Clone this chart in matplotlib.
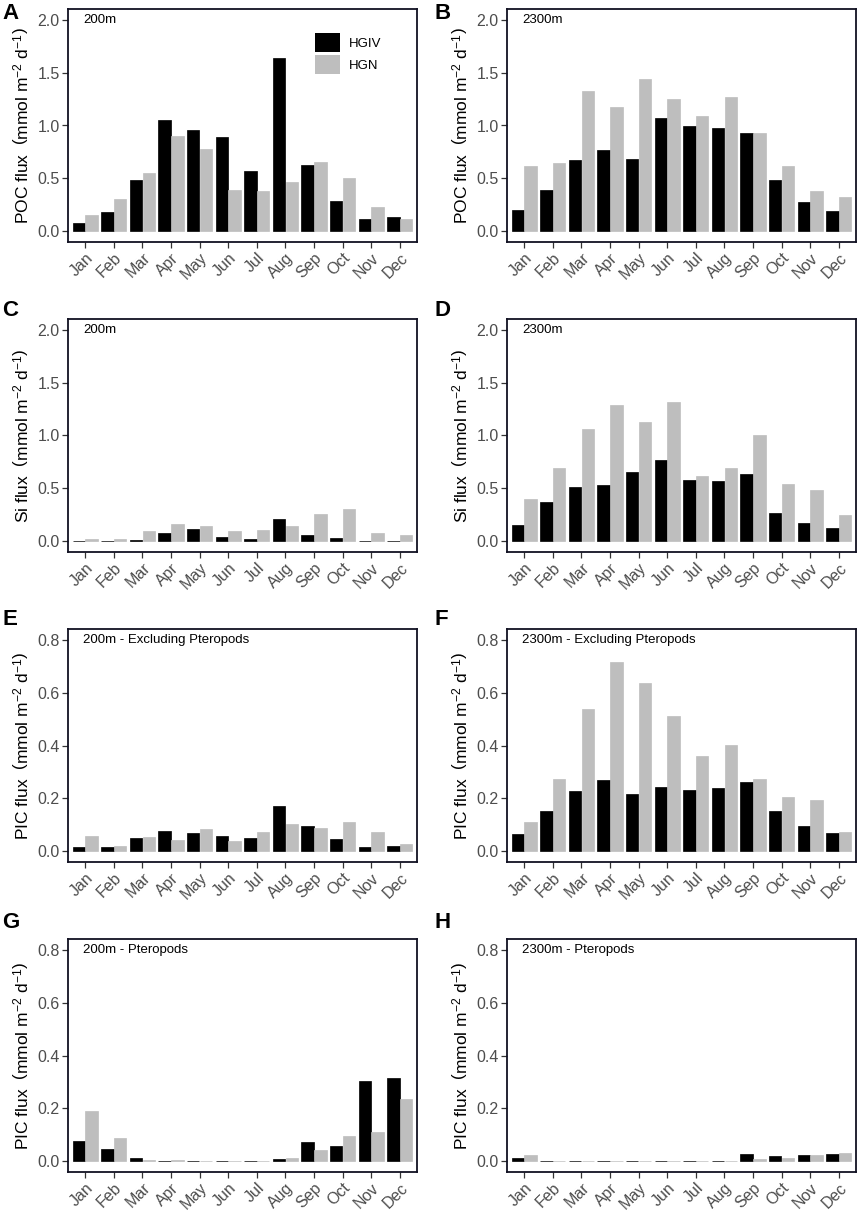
import matplotlib
matplotlib.use("Agg")
import matplotlib.pyplot as plt
from matplotlib.patches import Patch
import numpy as np

plt.rcParams['font.family'] = ['Liberation Sans', 'DejaVu Sans']
plt.rcParams['mathtext.fontset'] = 'custom'
plt.rcParams['mathtext.rm'] = 'Liberation Sans'
plt.rcParams['mathtext.it'] = 'Liberation Sans:italic'
plt.rcParams['mathtext.bf'] = 'Liberation Sans:bold'

months = ["Jan", "Feb", "Mar", "Apr", "May", "Jun", "Jul", "Aug", "Sep", "Oct", "Nov", "Dec"]
series_names = ["HGIV", "HGN"]

poc_200_hgiv = [0.081, 0.187, 0.486, 1.05, 0.953, 0.891, 0.573, 1.635, 0.623, 0.283, 0.121, 0.134]
poc_200_hgn = [0.153, 0.302, 0.554, 0.903, 0.776, 0.389, 0.386, 0.464, 0.651, 0.502, 0.227, 0.115]
poc_2300_hgiv = [0.202, 0.393, 0.67, 0.77, 0.685, 1.075, 0.997, 0.978, 0.928, 0.489, 0.28, 0.196]
poc_2300_hgn = [0.62, 0.645, 1.33, 1.174, 1.44, 1.246, 1.09, 1.265, 0.928, 0.617, 0.38, 0.321]

si_200_hgiv = [0.006, 0.006, 0.015, 0.078, 0.12, 0.044, 0.02, 0.21, 0.062, 0.028, 0.003, 0.008]
si_200_hgn = [0.025, 0.025, 0.1, 0.162, 0.147, 0.1, 0.11, 0.144, 0.256, 0.303, 0.078, 0.062]
si_2300_hgiv = [0.153, 0.368, 0.515, 0.53, 0.652, 0.77, 0.583, 0.571, 0.633, 0.271, 0.178, 0.125]
si_2300_hgn = [0.4, 0.69, 1.06, 1.289, 1.13, 1.317, 0.615, 0.696, 1.0, 0.54, 0.487, 0.25]

pic_ex_200_hgiv = [0.015, 0.0175, 0.05, 0.0775, 0.069, 0.059, 0.0525, 0.1725, 0.095, 0.045, 0.015, 0.02]
pic_ex_200_hgn = [0.0575, 0.021, 0.056, 0.044, 0.084, 0.04, 0.074, 0.1025, 0.0875, 0.11, 0.074, 0.029]
pic_ex_2300_hgiv = [0.064, 0.151, 0.23, 0.271, 0.215, 0.2425, 0.231, 0.24, 0.264, 0.154, 0.096, 0.071]
pic_ex_2300_hgn = [0.11, 0.2725, 0.539, 0.714, 0.6375, 0.5125, 0.359, 0.4025, 0.275, 0.205, 0.195, 0.074]

pic_pt_200_hgiv = [0.076, 0.045, 0.014, 0.0025, 0.001, 0.0, 0.001, 0.0075, 0.0725, 0.06, 0.305, 0.314]
pic_pt_200_hgn = [0.191, 0.0875, 0.006, 0.005, 0.0005, 0.0, 0.0015, 0.011, 0.0425, 0.096, 0.11, 0.234]
pic_pt_2300_hgiv = [0.014, 0.0025, 0.0025, 0.0005, 0.0005, 0.0, 0.0, 0.0, 0.0275, 0.02, 0.025, 0.0275]
pic_pt_2300_hgn = [0.0225, 0.001, 0.001, 0.001, 0.0025, 0.0005, 0.0, 0.0025, 0.0075, 0.014, 0.024, 0.031]

panels = [
    ("A", "200m", "POC flux", poc_200_hgiv, poc_200_hgn, "poc"),
    ("B", "2300m", "POC flux", poc_2300_hgiv, poc_2300_hgn, "poc"),
    ("C", "200m", "Si flux", si_200_hgiv, si_200_hgn, "poc"),
    ("D", "2300m", "Si flux", si_2300_hgiv, si_2300_hgn, "poc"),
    ("E", "200m - Excluding Pteropods", "PIC flux", pic_ex_200_hgiv, pic_ex_200_hgn, "pic"),
    ("F", "2300m - Excluding Pteropods", "PIC flux", pic_ex_2300_hgiv, pic_ex_2300_hgn, "pic"),
    ("G", "200m - Pteropods", "PIC flux", pic_pt_200_hgiv, pic_pt_200_hgn, "pic"),
    ("H", "2300m - Pteropods", "PIC flux", pic_pt_2300_hgiv, pic_pt_2300_hgn, "pic"),
]

W, H = 858, 1212
fig = plt.figure(figsize=(W / 100, H / 100), dpi=100)

col_left = [68, 507]
row_top = [9, 319, 629, 939]
aw, ah = 349, 233
letter_x = [2, 434]
letter_y = [3, 300, 609, 912]

c_black = "#000000"
c_grey = "#BEBEBE"
tick_col = "#4D4D4D"

x = np.arange(1, 13)
bw = 0.45

for i, (letter, note, qty, s1, s2, kind) in enumerate(panels):
    r, c = divmod(i, 2)
    ax = fig.add_axes([col_left[c] / W, 1 - (row_top[r] + ah) / H, aw / W, ah / H])
    ax.bar(x - bw / 2, s1, width=bw * 0.96, color=c_black, edgecolor=c_black, linewidth=0.5, label=series_names[0])
    ax.bar(x + bw / 2, s2, width=bw * 0.96, color=c_grey, edgecolor=c_grey, linewidth=0.5, label=series_names[1])
    ax.set_xlim(0.4, 12.6)
    if kind == "poc":
        ax.set_ylim(-0.1, 2.1)
        ax.set_yticks([0, 0.5, 1.0, 1.5, 2.0])
        ax.set_yticklabels(["0.0", "0.5", "1.0", "1.5", "2.0"])
    else:
        ax.set_ylim(-0.04, 0.84)
        ax.set_yticks([0, 0.2, 0.4, 0.6, 0.8])
        ax.set_yticklabels(["0.0", "0.2", "0.4", "0.6", "0.8"])
    ax.set_xticks(x)
    ax.set_xticklabels(months, rotation=45, ha="right", va="top", rotation_mode="anchor")
    ax.tick_params(axis="both", colors="#333333", labelcolor=tick_col, labelsize=11.5, length=4, width=0.9)
    ax.tick_params(axis="x", pad=2)
    ax.tick_params(axis="y", pad=2)
    for sp in ax.spines.values():
        sp.set_color("#111122")
        sp.set_linewidth(1.3)
    ax.set_ylabel(qty + r"  $\left(\mathregular{mmol\ m^{-2}\ d^{-1}}\right)$", fontsize=12.5, labelpad=4)
    ax.text(15 / aw, 1 - 11 / ah, note, transform=ax.transAxes, fontsize=9.5, ha="left", va="center", color="black")
    fig.text(letter_x[c] / W, 1 - letter_y[r] / H, letter, fontsize=16, fontweight="bold", ha="left", va="top")
    if letter == "A":
        handles = [Patch(facecolor=c_black, linewidth=0),
                   Patch(facecolor=c_grey, linewidth=0)]
        ax.legend(handles, series_names, loc="upper left", bbox_to_anchor=((315 - 68) / aw, 1 - (33 - 9) / ah),
                  frameon=False, fontsize=9.5, handlelength=1.9, handleheight=1.85, labelspacing=0.2,
                  handletextpad=0.7, borderpad=0, borderaxespad=0)

fig.savefig("out.png", dpi=100)
